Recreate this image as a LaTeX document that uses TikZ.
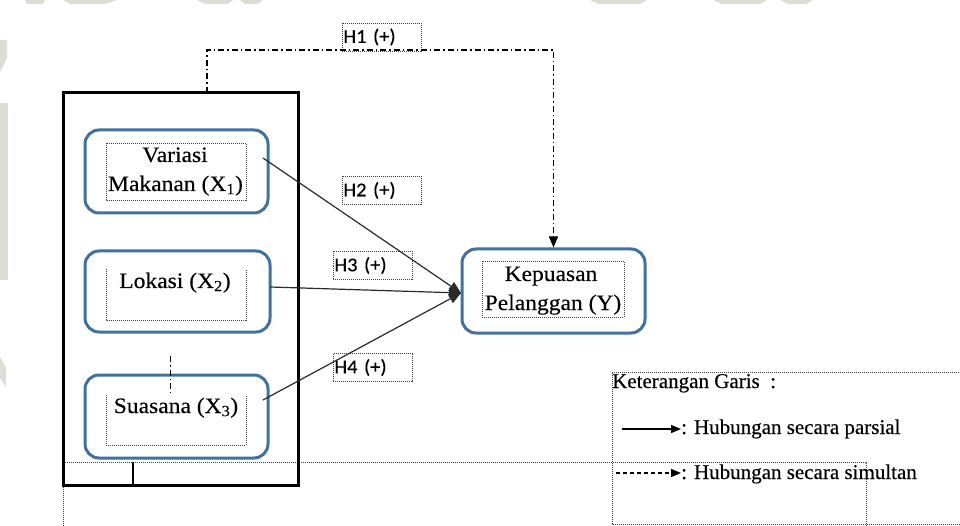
\documentclass[tikz,border=0pt]{standalone}
\usepackage{fontspec}
\setmainfont[FakeBold=0.3]{Liberation Serif}
\newfontfamily\boxfont[FakeStretch=1.07,FakeBold=0.3]{Liberation Serif}
\newfontfamily\hfont[FakeStretch=1.05,FakeBold=0.3]{Carlito}
\usetikzlibrary{arrows.meta}

\definecolor{boxblue}{HTML}{41719C}
\definecolor{linegray}{HTML}{2A2A2A}
\definecolor{wmgray}{HTML}{DDDDD6}

\tikzset{
  varbox/.style={draw=boxblue, line width=3pt, rounded corners=14pt, fill=white},
  tframe/.style={draw=black!75, line width=0.8pt, dash pattern=on 1pt off 1pt},
  hlabel/.style={tframe, minimum width=79pt, minimum height=28pt, inner sep=1pt,
                 font=\hfont\fontsize{19.5}{22}\selectfont, anchor=west, text width=77pt, align=left},
  vtext/.style={font=\boxfont\fontsize{22}{29}\selectfont, anchor=base, inner sep=0pt},
  ltext/.style={font=\fontsize{21}{29}\selectfont, anchor=base west, inner sep=0pt},
  partial/.style={draw=linegray, line width=1.2pt, -{Triangle[length=12pt,width=10pt]}},
  simul/.style={draw=black, line width=1.4pt, dash pattern=on 6pt off 3pt on 1.5pt off 3pt},
  simularrow/.style={simul, -{Triangle[length=11pt,width=9pt]}},
  wm/.style={fill=wmgray, draw=none},
}

\begin{document}
\begin{tikzpicture}[x=1pt,y=-1pt]
\useasboundingbox (0,0) rectangle (960,526);

% faint background logo along the edges of the page
\fill[wm] (25,0) -- (45,0) -- (43,4) -- (27,4) -- cycle;
\fill[wm] (63,0) -- (117,0) -- (105,4) -- (70,4) -- cycle;
\fill[wm] (197,0) -- (233,0) -- (228,4) -- (205,4) -- cycle;
\fill[wm] (240,0) -- (263,0) -- (258,4) -- (245,4) -- cycle;
\fill[wm] (590,0) -- (647,0) -- (640,4) -- (598,4) -- cycle;
\fill[wm] (713,0) -- (767,0) -- (760,4) -- (722,4) -- cycle;
\fill[wm] (780,0) -- (813,0) -- (806,4) -- (788,4) -- cycle;
\fill[wm] (0,40) -- (7,40) -- (7,58) -- (0,72) -- cycle;
\fill[wm] (0,103) -- (8,103) -- (8,280) -- (0,280) -- cycle;
\fill[wm] (0,357) -- (6,368) -- (6,387) -- (0,378) -- cycle;

% frame of the text box along the bottom and the legend frame
\draw[tframe] (63,526) -- (63,462) -- (866,462) -- (866,526);
\draw[tframe] (961,372) -- (612,372) -- (612,524) -- (961,524);

% thick group frame round the independent variables
\draw[line width=3pt] (63,93) rectangle (298,485);
\draw[line width=2pt] (133,462) -- (133,485);

% independent variables
\node[varbox, minimum width=183pt, minimum height=83pt] (v1) at (176.5,171.5) {};
\node[varbox, minimum width=185pt, minimum height=81pt] (v2) at (177.5,291.5) {};
\node[varbox, minimum width=183pt, minimum height=83pt] (v3) at (176.5,416.5) {};
% dependent variable
\node[varbox, minimum width=183pt, minimum height=84pt] (y) at (553.5,291) {};

% dotted text frames inside the boxes
\draw[tframe] (106,143) rectangle (246,200);
\draw[tframe] (106,269) -- (106,320) -- (246,320) -- (246,269);
\draw[tframe] (106,395) -- (106,445) -- (246,445) -- (246,395);
\draw[tframe] (482,261) rectangle (624,317);

% box texts
\node[vtext] (v1a) at (175,162) {Variasi};
\node[vtext] (v1b) at (175.5,191) {Makanan (X\textsubscript{1})};
\node[vtext] (v2a) at (175,288) {Lokasi (X\textsubscript{2})};
\node[vtext] (v3a) at (176,413) {Suasana (X\textsubscript{3})};
\node[vtext] (ya) at (551,281) {Kepuasan};
\node[vtext] (yb) at (553,310) {Pelanggan (Y)};

% hypothesis labels
\node[hlabel] (h1) at (342,37) {H1 (+)};
\node[hlabel] (h2) at (342,190.5) {H2 (+)};
\node[hlabel] (h3) at (333,265.5) {H3 (+)};
\node[hlabel] (h4) at (333,367.5) {H4 (+)};

% partial effects
\coordinate (s1) at (263,158);
\coordinate (s2) at (270,287);
\coordinate (s3) at (263,400);
\coordinate (yin) at (461,293);
\draw[partial] (s1) -- (yin);
\draw[partial] (s2) -- (yin);
\draw[partial] (s3) -- (yin);

% simultaneous effect
\coordinate (gtop) at (207,93);
\coordinate (turn) at (553.5,50);
\draw[simularrow] (gtop) |- (turn) -- (y.north);
\coordinate (d1) at (170,356);
\coordinate (d2) at (170,393);
\draw[simul, line width=1pt] (d1) -- (d2);

% legend
\node[ltext] (lg) at (612,388) {Keterangan Garis\enspace:};
\coordinate (la1) at (622,429);
\node[ltext] (lp) at (681,434) {: Hubungan secara parsial};
\draw[draw=black, line width=1.2pt, -{Triangle[length=10pt,width=8pt]}] (la1) -- (lp.west |- la1);
\coordinate (lb1) at (616,473);
\node[ltext] (ls) at (681,479) {: Hubungan secara simultan};
\draw[draw=black, line width=1.2pt, dash pattern=on 4pt off 3pt, -{Triangle[length=10pt,width=8pt]}] (lb1) -- (ls.west |- lb1);
\end{tikzpicture}
\end{document}
